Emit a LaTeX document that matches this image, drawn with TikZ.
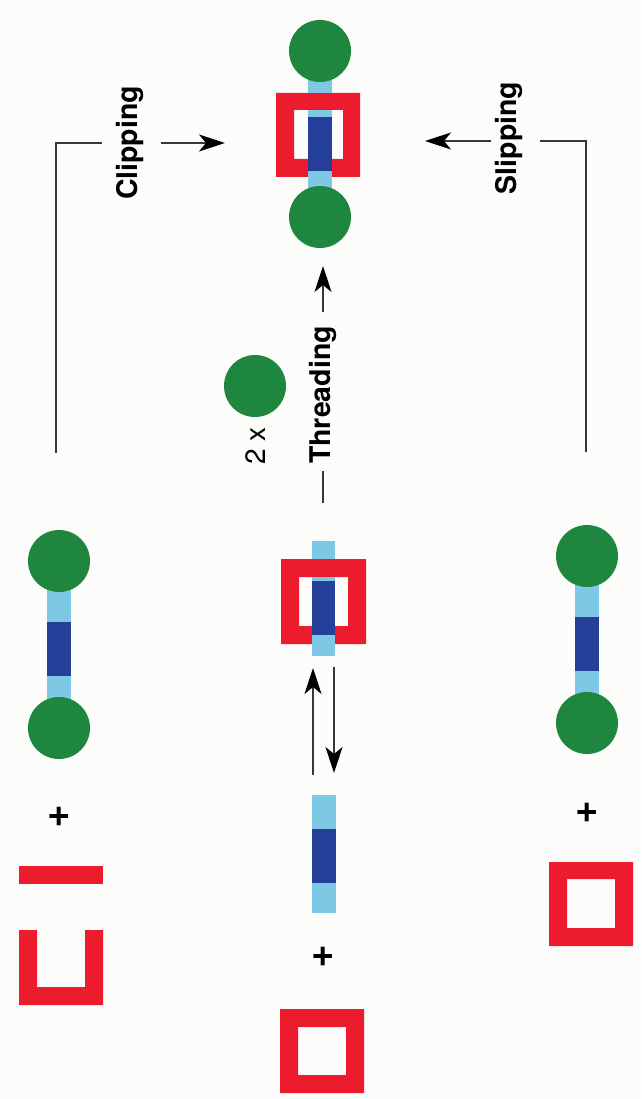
\documentclass[tikz,border=0pt]{standalone}
\usepackage{fontspec}
\setmainfont{TeX Gyre Heros}
\usetikzlibrary{arrows.meta,calc}
\definecolor{bead}{RGB}{30,134,62}
\definecolor{ringred}{RGB}{236,28,46}
\definecolor{axle}{RGB}{125,200,228}
\definecolor{core}{RGB}{38,63,152}
\definecolor{paper}{RGB}{252,252,250}
\definecolor{wire}{RGB}{55,55,55}
\begin{document}
\begin{tikzpicture}[x=1pt,y=-1pt,
  stopper/.style={fill=bead},
  ringpart/.style={fill=ringred, even odd rule},
  axlepart/.style={fill=axle},
  corepart/.style={fill=core},
  lbl/.style={font=\fontsize{28.5}{31}\selectfont\bfseries, rotate=90, inner sep=0pt},
  note/.style={font=\fontsize{28}{30}\selectfont, rotate=90, inner sep=0pt},
  plus/.style={font=\fontsize{40}{42}\selectfont\bfseries, inner sep=0pt},
  link/.style={draw=wire, line width=1.3pt},
  arr/.style={link, -{Stealth[length=26pt,width=17pt,inset=7pt,color=black]}}
]
\fill[paper] (0,0) rectangle (641,1099);
\useasboundingbox (0,0) rectangle (641,1099);

% ---- rotaxane product (top centre)
\fill[ringpart] (276,93) rectangle (360,177) (294,110) rectangle (343,159);
\fill[axlepart] (308,70) rectangle (332,200);
\fill[corepart] (308,117) rectangle (332,171);
\fill[ringpart] (276,93) rectangle (360,110);
\fill[stopper] (320,51) circle (31);
\fill[stopper] (320,217) circle (31);

% ---- free stopper, two equivalents
\fill[stopper] (255,386) circle (31);
\node[note] (times) at (256,446) {2 x};

% ---- left dumbbell (clipping route)
\fill[axlepart] (47,580) rectangle (71,710);
\fill[corepart] (47,622) rectangle (71,676);
\fill[stopper] (59,561) circle (31);
\fill[stopper] (59,728) circle (31);

% ---- right dumbbell (slipping route)
\fill[axlepart] (575,575) rectangle (599,705);
\fill[corepart] (575,617) rectangle (599,671);
\fill[stopper] (587,556) circle (31);
\fill[stopper] (587,723) circle (31);

% ---- pseudorotaxane (middle)
\fill[ringpart] (281,559) rectangle (366,644) (299,577) rectangle (348,626);
\fill[axlepart] (312,541) rectangle (335,656);
\fill[corepart] (312,581) rectangle (335,635);
\fill[ringpart] (281,559) rectangle (366,577);

% ---- free thread
\fill[axlepart] (312,795) rectangle (336,913);
\fill[corepart] (312,829) rectangle (336,883);

% ---- ring fragments for clipping
\fill[ringpart] (19,866) rectangle (103,884);
\fill[ringpart] (19,930) -- (37,930) -- (37,987) -- (85,987) -- (85,930)
  -- (103,930) -- (103,1005) -- (19,1005) -- cycle;

% ---- closed rings
\fill[ringpart] (280,1009) rectangle (364,1093) (298,1027) rectangle (346,1075);
\fill[ringpart] (549,862) rectangle (633,946) (567,879) rectangle (615,928);

% ---- plus signs
\node[plus] (plusL) at (59,817) {+};
\node[plus] (plusM) at (323,957) {+};
\node[plus] (plusR) at (587,813) {+};

% ---- route labels
\node[lbl] (clip) at (130,143) {Clipping};
\node[lbl] (slip) at (509,138) {Slipping};
\node[lbl] (thread) at (323,395) {Threading};

% ---- connectors
\coordinate (clipfoot) at (56,453);
\coordinate (cliptip) at (225,143);
\draw[link, shorten >=14pt] (clipfoot) |- (clip.north);
\draw[arr, shorten <=17pt] (clip.south) -- (cliptip);

\coordinate (slipfoot) at (586,452);
\coordinate (sliptip) at (425,141);
\draw[link, shorten >=17pt] (slipfoot) |- ([yshift=-3pt]slip.south);
\draw[arr, shorten <=4pt] ([yshift=-3pt]slip.north) -- (sliptip);

\coordinate (thrfoot) at (323,503);
\coordinate (thrtip) at (323,266);
\draw[link, shorten >=7pt] (thrfoot) -- (thread.west);
\draw[arr, shorten <=14pt] (thread.east) -- (thrtip);

% ---- threading / dethreading equilibrium
\coordinate (eqUpFoot) at (313,775);
\coordinate (eqUpTip) at (313,668);
\coordinate (eqDnFoot) at (334,667);
\coordinate (eqDnTip) at (334,773);
\draw[arr] (eqUpFoot) -- (eqUpTip);
\draw[arr] (eqDnFoot) -- (eqDnTip);
\end{tikzpicture}
\end{document}
